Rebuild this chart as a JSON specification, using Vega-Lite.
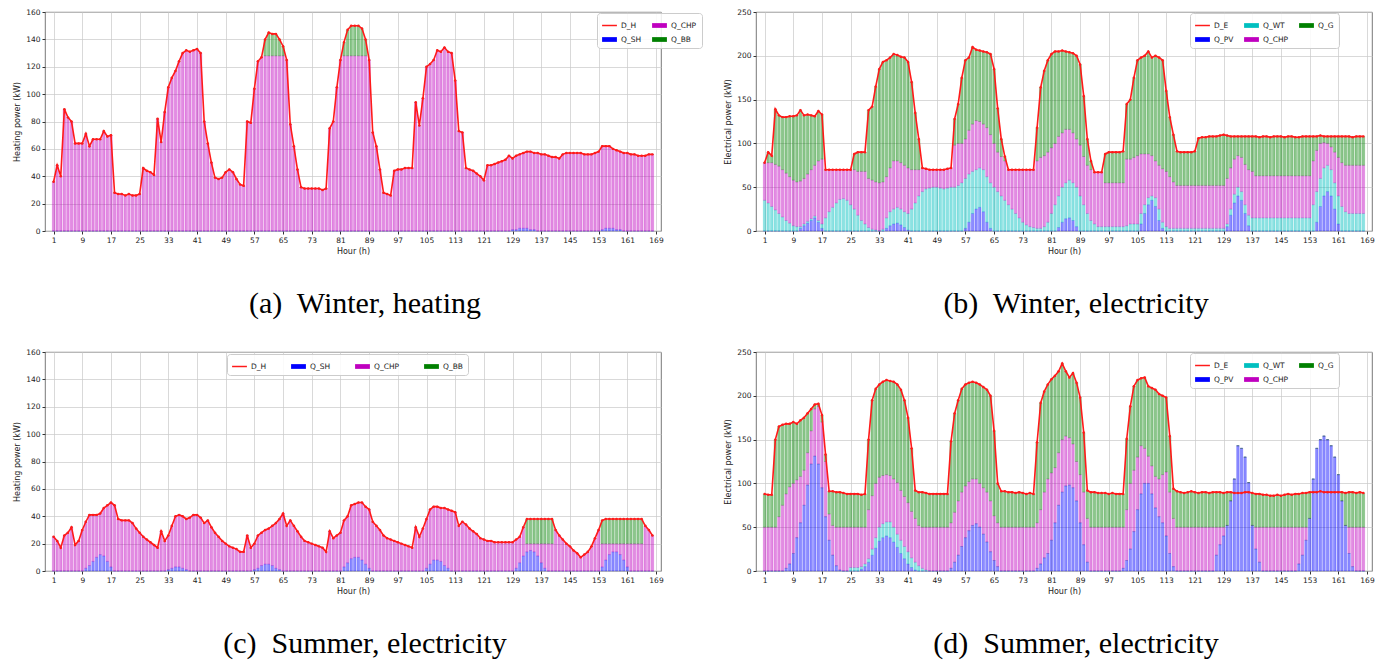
{
"$schema": "https://vega.github.io/schema/vega-lite/v6.json",
"background": "white",
"padding": {"left": 13, "top": 7, "right": 5, "bottom": 5},
"config": {
  "font": "DejaVu Sans",
  "view": {"stroke": "#555", "strokeWidth": 0.8},
  "axis": {"labelFontSize": 7.5, "titleFontSize": 8, "labelColor": "#222", "titleColor": "#222", "titleFontWeight": "normal", "gridColor": "#c8c8c8", "gridWidth": 0.7, "tickColor": "#333", "tickSize": 3, "domain": false, "labelPadding": 2, "titlePadding": 4, "labelOverlap": false, "labelFlush": false},
  "legend": {"labelFontSize": 7.5, "labelFont": "DejaVu Sans", "labelColor": "#222", "title": null, "symbolSize": 220, "rowPadding": 3, "columnPadding": 10, "padding": 5, "strokeColor": "#cccccc", "fillColor": "rgba(255,255,255,0.85)", "cornerRadius": 3, "labelLimit": 80, "symbolStrokeWidth": 0},
  "title": {"font": "Liberation Serif", "fontSize": 30, "fontWeight": "normal", "color": "#000", "orient": "bottom", "anchor": "middle", "offset": 33, "dx": 12}
},
"datasets": {
"ka": [{"k":"s","lab":"Q_SH","o":0},{"k":"c","lab":"Q_CHP","o":1},{"k":"b","lab":"Q_BB","o":2}],
"kb": [{"k":"p","lab":"Q_PV","o":0},{"k":"w","lab":"Q_WT","o":1},{"k":"c","lab":"Q_CHP","o":2},{"k":"g","lab":"Q_G","o":3}],
"a": [
{"h":1,"D":36,"s":0,"c":36,"b":0},{"h":2,"D":48,"s":0,"c":48,"b":0},{"h":3,"D":40,"s":0,"c":40,"b":0},{"h":4,"D":89,"s":0,"c":89,"b":0},{"h":5,"D":83,"s":0,"c":83,"b":0},{"h":6,"D":80,"s":0,"c":80,"b":0},{"h":7,"D":64,"s":0,"c":64,"b":0},{"h":8,"D":64,"s":0,"c":64,"b":0},{"h":9,"D":64,"s":0,"c":64,"b":0},{"h":10,"D":71,"s":0,"c":71,"b":0},
{"h":11,"D":62,"s":0,"c":62,"b":0},{"h":12,"D":67,"s":0,"c":67,"b":0},{"h":13,"D":67,"s":0,"c":67,"b":0},{"h":14,"D":67,"s":0,"c":67,"b":0},{"h":15,"D":73,"s":0,"c":73,"b":0},{"h":16,"D":69,"s":0,"c":69,"b":0},{"h":17,"D":70,"s":0,"c":70,"b":0},{"h":18,"D":28,"s":0,"c":28,"b":0},{"h":19,"D":27,"s":0,"c":27,"b":0},{"h":20,"D":27,"s":0,"c":27,"b":0},
{"h":21,"D":26,"s":0,"c":26,"b":0},{"h":22,"D":27,"s":0,"c":27,"b":0},{"h":23,"D":26,"s":0,"c":26,"b":0},{"h":24,"D":26,"s":0,"c":26,"b":0},{"h":25,"D":27,"s":0,"c":27,"b":0},{"h":26,"D":46,"s":0,"c":46,"b":0},{"h":27,"D":44,"s":0,"c":44,"b":0},{"h":28,"D":43,"s":0,"c":43,"b":0},{"h":29,"D":41,"s":0,"c":41,"b":0},{"h":30,"D":82,"s":0,"c":82,"b":0},
{"h":31,"D":65,"s":0,"c":65,"b":0},{"h":32,"D":87,"s":0,"c":87,"b":0},{"h":33,"D":105,"s":0,"c":105,"b":0},{"h":34,"D":112,"s":0,"c":112,"b":0},{"h":35,"D":117,"s":0,"c":117,"b":0},{"h":36,"D":124,"s":0,"c":124,"b":0},{"h":37,"D":130,"s":0,"c":130,"b":0},{"h":38,"D":132,"s":0,"c":132,"b":0},{"h":39,"D":131,"s":0,"c":131,"b":0},{"h":40,"D":132,"s":0,"c":132,"b":0},
{"h":41,"D":133,"s":0,"c":133,"b":0},{"h":42,"D":130,"s":0,"c":130,"b":0},{"h":43,"D":80,"s":0,"c":80,"b":0},{"h":44,"D":64,"s":0,"c":64,"b":0},{"h":45,"D":50,"s":0,"c":50,"b":0},{"h":46,"D":39,"s":0,"c":39,"b":0},{"h":47,"D":38,"s":0,"c":38,"b":0},{"h":48,"D":39,"s":0,"c":39,"b":0},{"h":49,"D":43,"s":0,"c":43,"b":0},{"h":50,"D":45,"s":0,"c":45,"b":0},
{"h":51,"D":43,"s":0,"c":43,"b":0},{"h":52,"D":38,"s":0,"c":38,"b":0},{"h":53,"D":34,"s":0,"c":34,"b":0},{"h":54,"D":33,"s":0,"c":33,"b":0},{"h":55,"D":80,"s":0,"c":80,"b":0},{"h":56,"D":79,"s":0,"c":79,"b":0},{"h":57,"D":104,"s":0,"c":104,"b":0},{"h":58,"D":124,"s":0,"c":124,"b":0},{"h":59,"D":127,"s":0,"c":127,"b":0},{"h":60,"D":140,"s":0,"c":128,"b":12},
{"h":61,"D":145,"s":0,"c":128,"b":17},{"h":62,"D":144,"s":0,"c":128,"b":16},{"h":63,"D":144,"s":0,"c":128,"b":16},{"h":64,"D":140,"s":0,"c":128,"b":12},{"h":65,"D":135,"s":0,"c":128,"b":7},{"h":66,"D":125,"s":0,"c":125,"b":0},{"h":67,"D":78,"s":0,"c":78,"b":0},{"h":68,"D":62,"s":0,"c":62,"b":0},{"h":69,"D":45,"s":0,"c":45,"b":0},{"h":70,"D":32,"s":0,"c":32,"b":0},
{"h":71,"D":31,"s":0,"c":31,"b":0},{"h":72,"D":31,"s":0,"c":31,"b":0},{"h":73,"D":31,"s":0,"c":31,"b":0},{"h":74,"D":31,"s":0,"c":31,"b":0},{"h":75,"D":31,"s":0,"c":31,"b":0},{"h":76,"D":30,"s":0,"c":30,"b":0},{"h":77,"D":31,"s":0,"c":31,"b":0},{"h":78,"D":75,"s":0,"c":75,"b":0},{"h":79,"D":80,"s":0,"c":80,"b":0},{"h":80,"D":105,"s":0,"c":105,"b":0},
{"h":81,"D":125,"s":0,"c":125,"b":0},{"h":82,"D":138,"s":0,"c":128,"b":10},{"h":83,"D":147,"s":0,"c":128,"b":19},{"h":84,"D":150,"s":0,"c":128,"b":22},{"h":85,"D":150,"s":0,"c":128,"b":22},{"h":86,"D":150,"s":0,"c":128,"b":22},{"h":87,"D":148,"s":0,"c":128,"b":20},{"h":88,"D":140,"s":0,"c":128,"b":12},{"h":89,"D":125,"s":0,"c":125,"b":0},{"h":90,"D":72,"s":0,"c":72,"b":0},
{"h":91,"D":62,"s":0,"c":62,"b":0},{"h":92,"D":45,"s":0,"c":45,"b":0},{"h":93,"D":28,"s":0,"c":28,"b":0},{"h":94,"D":27,"s":0,"c":27,"b":0},{"h":95,"D":26,"s":0,"c":26,"b":0},{"h":96,"D":44,"s":0,"c":44,"b":0},{"h":97,"D":45,"s":0,"c":45,"b":0},{"h":98,"D":45,"s":0,"c":45,"b":0},{"h":99,"D":46,"s":0,"c":46,"b":0},{"h":100,"D":46,"s":0,"c":46,"b":0},
{"h":101,"D":46,"s":0,"c":46,"b":0},{"h":102,"D":94,"s":0,"c":94,"b":0},{"h":103,"D":77,"s":0,"c":77,"b":0},{"h":104,"D":97,"s":0,"c":97,"b":0},{"h":105,"D":120,"s":0,"c":120,"b":0},{"h":106,"D":122,"s":0,"c":122,"b":0},{"h":107,"D":125,"s":0,"c":125,"b":0},{"h":108,"D":132,"s":0,"c":132,"b":0},{"h":109,"D":131,"s":0,"c":131,"b":0},{"h":110,"D":134,"s":0,"c":134,"b":0},
{"h":111,"D":131,"s":0,"c":131,"b":0},{"h":112,"D":130,"s":0,"c":130,"b":0},{"h":113,"D":110,"s":0,"c":110,"b":0},{"h":114,"D":73,"s":0,"c":73,"b":0},{"h":115,"D":72,"s":0,"c":72,"b":0},{"h":116,"D":46,"s":0,"c":46,"b":0},{"h":117,"D":45,"s":0,"c":45,"b":0},{"h":118,"D":44,"s":0,"c":44,"b":0},{"h":119,"D":42,"s":0,"c":42,"b":0},{"h":120,"D":40,"s":0,"c":40,"b":0},
{"h":121,"D":37,"s":0,"c":37,"b":0},{"h":122,"D":48,"s":0,"c":48,"b":0},{"h":123,"D":48,"s":0,"c":48,"b":0},{"h":124,"D":49,"s":0,"c":49,"b":0},{"h":125,"D":50,"s":0,"c":50,"b":0},{"h":126,"D":51,"s":0,"c":51,"b":0},{"h":127,"D":52,"s":0,"c":52,"b":0},{"h":128,"D":55,"s":0,"c":55,"b":0},{"h":129,"D":53,"s":1,"c":52,"b":0},{"h":130,"D":55,"s":1,"c":54,"b":0},
{"h":131,"D":56,"s":2,"c":54,"b":0},{"h":132,"D":57,"s":2,"c":55,"b":0},{"h":133,"D":58,"s":2,"c":56,"b":0},{"h":134,"D":58,"s":1,"c":57,"b":0},{"h":135,"D":57,"s":1,"c":56,"b":0},{"h":136,"D":57,"s":0,"c":57,"b":0},{"h":137,"D":56,"s":0,"c":56,"b":0},{"h":138,"D":56,"s":0,"c":56,"b":0},{"h":139,"D":55,"s":0,"c":55,"b":0},{"h":140,"D":54,"s":0,"c":54,"b":0},
{"h":141,"D":54,"s":0,"c":54,"b":0},{"h":142,"D":53,"s":0,"c":53,"b":0},{"h":143,"D":56,"s":0,"c":56,"b":0},{"h":144,"D":57,"s":0,"c":57,"b":0},{"h":145,"D":57,"s":0,"c":57,"b":0},{"h":146,"D":57,"s":0,"c":57,"b":0},{"h":147,"D":57,"s":0,"c":57,"b":0},{"h":148,"D":57,"s":0,"c":57,"b":0},{"h":149,"D":56,"s":0,"c":56,"b":0},{"h":150,"D":56,"s":0,"c":56,"b":0},
{"h":151,"D":56,"s":0,"c":56,"b":0},{"h":152,"D":57,"s":0,"c":57,"b":0},{"h":153,"D":58,"s":0,"c":58,"b":0},{"h":154,"D":62,"s":1,"c":61,"b":0},{"h":155,"D":62,"s":2,"c":60,"b":0},{"h":156,"D":62,"s":2,"c":60,"b":0},{"h":157,"D":60,"s":2,"c":58,"b":0},{"h":158,"D":59,"s":1,"c":58,"b":0},{"h":159,"D":58,"s":1,"c":57,"b":0},{"h":160,"D":57,"s":0,"c":57,"b":0},
{"h":161,"D":57,"s":0,"c":57,"b":0},{"h":162,"D":56,"s":0,"c":56,"b":0},{"h":163,"D":56,"s":0,"c":56,"b":0},{"h":164,"D":55,"s":0,"c":55,"b":0},{"h":165,"D":55,"s":0,"c":55,"b":0},{"h":166,"D":55,"s":0,"c":55,"b":0},{"h":167,"D":56,"s":0,"c":56,"b":0},{"h":168,"D":56,"s":0,"c":56,"b":0}
],
"c": [
{"h":1,"D":25,"s":0,"c":25,"b":0},{"h":2,"D":22,"s":0,"c":22,"b":0},{"h":3,"D":17,"s":0,"c":17,"b":0},{"h":4,"D":26,"s":0,"c":26,"b":0},{"h":5,"D":28,"s":0,"c":28,"b":0},{"h":6,"D":32,"s":0,"c":32,"b":0},{"h":7,"D":19,"s":0,"c":19,"b":0},{"h":8,"D":22,"s":0,"c":22,"b":0},{"h":9,"D":30,"s":0,"c":30,"b":0},{"h":10,"D":36,"s":2,"c":34,"b":0},
{"h":11,"D":41,"s":4,"c":37,"b":0},{"h":12,"D":41,"s":7,"c":34,"b":0},{"h":13,"D":41,"s":10,"c":31,"b":0},{"h":14,"D":42,"s":12,"c":30,"b":0},{"h":15,"D":46,"s":11,"c":35,"b":0},{"h":16,"D":48,"s":7,"c":41,"b":0},{"h":17,"D":50,"s":3,"c":47,"b":0},{"h":18,"D":48,"s":0,"c":48,"b":0},{"h":19,"D":38,"s":0,"c":38,"b":0},{"h":20,"D":37,"s":0,"c":37,"b":0},
{"h":21,"D":37,"s":0,"c":37,"b":0},{"h":22,"D":37,"s":0,"c":37,"b":0},{"h":23,"D":35,"s":0,"c":35,"b":0},{"h":24,"D":31,"s":0,"c":31,"b":0},{"h":25,"D":28,"s":0,"c":28,"b":0},{"h":26,"D":25,"s":0,"c":25,"b":0},{"h":27,"D":23,"s":0,"c":23,"b":0},{"h":28,"D":21,"s":0,"c":21,"b":0},{"h":29,"D":19,"s":0,"c":19,"b":0},{"h":30,"D":17,"s":0,"c":17,"b":0},
{"h":31,"D":29,"s":0,"c":29,"b":0},{"h":32,"D":22,"s":0,"c":22,"b":0},{"h":33,"D":26,"s":1,"c":25,"b":0},{"h":34,"D":33,"s":2,"c":31,"b":0},{"h":35,"D":40,"s":3,"c":37,"b":0},{"h":36,"D":41,"s":3,"c":38,"b":0},{"h":37,"D":40,"s":2,"c":38,"b":0},{"h":38,"D":38,"s":1,"c":37,"b":0},{"h":39,"D":39,"s":0,"c":39,"b":0},{"h":40,"D":41,"s":0,"c":41,"b":0},
{"h":41,"D":41,"s":0,"c":41,"b":0},{"h":42,"D":39,"s":0,"c":39,"b":0},{"h":43,"D":35,"s":0,"c":35,"b":0},{"h":44,"D":37,"s":0,"c":37,"b":0},{"h":45,"D":32,"s":0,"c":32,"b":0},{"h":46,"D":28,"s":0,"c":28,"b":0},{"h":47,"D":25,"s":0,"c":25,"b":0},{"h":48,"D":22,"s":0,"c":22,"b":0},{"h":49,"D":20,"s":0,"c":20,"b":0},{"h":50,"D":18,"s":0,"c":18,"b":0},
{"h":51,"D":17,"s":0,"c":17,"b":0},{"h":52,"D":16,"s":0,"c":16,"b":0},{"h":53,"D":14,"s":0,"c":14,"b":0},{"h":54,"D":14,"s":0,"c":14,"b":0},{"h":55,"D":26,"s":0,"c":26,"b":0},{"h":56,"D":17,"s":0,"c":17,"b":0},{"h":57,"D":20,"s":1,"c":19,"b":0},{"h":58,"D":26,"s":2,"c":24,"b":0},{"h":59,"D":28,"s":4,"c":24,"b":0},{"h":60,"D":30,"s":5,"c":25,"b":0},
{"h":61,"D":31,"s":5,"c":26,"b":0},{"h":62,"D":33,"s":4,"c":29,"b":0},{"h":63,"D":35,"s":2,"c":33,"b":0},{"h":64,"D":38,"s":1,"c":37,"b":0},{"h":65,"D":42,"s":0,"c":42,"b":0},{"h":66,"D":33,"s":0,"c":33,"b":0},{"h":67,"D":37,"s":0,"c":37,"b":0},{"h":68,"D":33,"s":0,"c":33,"b":0},{"h":69,"D":29,"s":0,"c":29,"b":0},{"h":70,"D":25,"s":0,"c":25,"b":0},
{"h":71,"D":22,"s":0,"c":22,"b":0},{"h":72,"D":21,"s":0,"c":21,"b":0},{"h":73,"D":20,"s":0,"c":20,"b":0},{"h":74,"D":19,"s":0,"c":19,"b":0},{"h":75,"D":18,"s":0,"c":18,"b":0},{"h":76,"D":17,"s":0,"c":17,"b":0},{"h":77,"D":14,"s":0,"c":14,"b":0},{"h":78,"D":29,"s":0,"c":29,"b":0},{"h":79,"D":24,"s":0,"c":24,"b":0},{"h":80,"D":26,"s":0,"c":26,"b":0},
{"h":81,"D":28,"s":0,"c":28,"b":0},{"h":82,"D":37,"s":3,"c":34,"b":0},{"h":83,"D":40,"s":6,"c":34,"b":0},{"h":84,"D":48,"s":9,"c":39,"b":0},{"h":85,"D":49,"s":10,"c":39,"b":0},{"h":86,"D":50,"s":10,"c":40,"b":0},{"h":87,"D":50,"s":8,"c":42,"b":0},{"h":88,"D":47,"s":5,"c":42,"b":0},{"h":89,"D":45,"s":2,"c":43,"b":0},{"h":90,"D":36,"s":0,"c":36,"b":0},
{"h":91,"D":33,"s":0,"c":33,"b":0},{"h":92,"D":30,"s":0,"c":30,"b":0},{"h":93,"D":26,"s":0,"c":26,"b":0},{"h":94,"D":24,"s":0,"c":24,"b":0},{"h":95,"D":23,"s":0,"c":23,"b":0},{"h":96,"D":22,"s":0,"c":22,"b":0},{"h":97,"D":21,"s":0,"c":21,"b":0},{"h":98,"D":20,"s":0,"c":20,"b":0},{"h":99,"D":19,"s":0,"c":19,"b":0},{"h":100,"D":18,"s":0,"c":18,"b":0},
{"h":101,"D":17,"s":0,"c":17,"b":0},{"h":102,"D":32,"s":0,"c":32,"b":0},{"h":103,"D":25,"s":0,"c":25,"b":0},{"h":104,"D":31,"s":0,"c":31,"b":0},{"h":105,"D":38,"s":2,"c":36,"b":0},{"h":106,"D":45,"s":5,"c":40,"b":0},{"h":107,"D":47,"s":8,"c":39,"b":0},{"h":108,"D":47,"s":8,"c":39,"b":0},{"h":109,"D":46,"s":7,"c":39,"b":0},{"h":110,"D":46,"s":4,"c":42,"b":0},
{"h":111,"D":45,"s":2,"c":43,"b":0},{"h":112,"D":44,"s":0,"c":44,"b":0},{"h":113,"D":43,"s":0,"c":43,"b":0},{"h":114,"D":33,"s":0,"c":33,"b":0},{"h":115,"D":36,"s":0,"c":36,"b":0},{"h":116,"D":34,"s":0,"c":34,"b":0},{"h":117,"D":31,"s":0,"c":31,"b":0},{"h":118,"D":29,"s":0,"c":29,"b":0},{"h":119,"D":27,"s":0,"c":27,"b":0},{"h":120,"D":24,"s":0,"c":24,"b":0},
{"h":121,"D":23,"s":0,"c":23,"b":0},{"h":122,"D":22,"s":0,"c":22,"b":0},{"h":123,"D":22,"s":0,"c":22,"b":0},{"h":124,"D":21,"s":0,"c":21,"b":0},{"h":125,"D":21,"s":0,"c":21,"b":0},{"h":126,"D":21,"s":0,"c":21,"b":0},{"h":127,"D":21,"s":0,"c":21,"b":0},{"h":128,"D":21,"s":0,"c":21,"b":0},{"h":129,"D":21,"s":0,"c":21,"b":0},{"h":130,"D":23,"s":2,"c":21,"b":0},
{"h":131,"D":25,"s":6,"c":19,"b":0},{"h":132,"D":32,"s":11,"c":21,"b":0},{"h":133,"D":38,"s":14,"c":6,"b":18},{"h":134,"D":38,"s":15,"c":5,"b":18},{"h":135,"D":38,"s":14,"c":6,"b":18},{"h":136,"D":38,"s":11,"c":9,"b":18},{"h":137,"D":38,"s":6,"c":14,"b":18},{"h":138,"D":38,"s":2,"c":18,"b":18},{"h":139,"D":38,"s":0,"c":20,"b":18},{"h":140,"D":38,"s":0,"c":20,"b":18},
{"h":141,"D":30,"s":0,"c":30,"b":0},{"h":142,"D":26,"s":0,"c":26,"b":0},{"h":143,"D":23,"s":0,"c":23,"b":0},{"h":144,"D":20,"s":0,"c":20,"b":0},{"h":145,"D":18,"s":0,"c":18,"b":0},{"h":146,"D":15,"s":0,"c":15,"b":0},{"h":147,"D":13,"s":0,"c":13,"b":0},{"h":148,"D":10,"s":0,"c":10,"b":0},{"h":149,"D":12,"s":0,"c":12,"b":0},{"h":150,"D":14,"s":0,"c":14,"b":0},
{"h":151,"D":18,"s":0,"c":18,"b":0},{"h":152,"D":24,"s":0,"c":24,"b":0},{"h":153,"D":30,"s":0,"c":30,"b":0},{"h":154,"D":37,"s":3,"c":17,"b":17},{"h":155,"D":38,"s":8,"c":12,"b":18},{"h":156,"D":38,"s":12,"c":8,"b":18},{"h":157,"D":38,"s":14,"c":6,"b":18},{"h":158,"D":38,"s":14,"c":6,"b":18},{"h":159,"D":38,"s":12,"c":8,"b":18},{"h":160,"D":38,"s":8,"c":12,"b":18},
{"h":161,"D":38,"s":3,"c":17,"b":18},{"h":162,"D":38,"s":0,"c":20,"b":18},{"h":163,"D":38,"s":0,"c":20,"b":18},{"h":164,"D":38,"s":0,"c":20,"b":18},{"h":165,"D":38,"s":0,"c":20,"b":18},{"h":166,"D":33,"s":0,"c":33,"b":0},{"h":167,"D":30,"s":0,"c":30,"b":0},{"h":168,"D":26,"s":0,"c":26,"b":0}
],
"b": [
{"h":1,"D":78,"p":0,"w":35,"c":43,"g":0},{"h":2,"D":90,"p":0,"w":32,"c":46,"g":12},{"h":3,"D":86,"p":0,"w":28,"c":50,"g":8},{"h":4,"D":139,"p":0,"w":24,"c":52,"g":63},{"h":5,"D":132,"p":0,"w":20,"c":54,"g":58},{"h":6,"D":130,"p":0,"w":16,"c":54,"g":60},{"h":7,"D":130,"p":0,"w":12,"c":54,"g":64},{"h":8,"D":131,"p":0,"w":9,"c":53,"g":69},{"h":9,"D":131,"p":0,"w":6,"c":52,"g":73},{"h":10,"D":132,"p":0,"w":5,"c":51,"g":76},
{"h":11,"D":138,"p":3,"w":2,"c":52,"g":81},{"h":12,"D":132,"p":6,"w":2,"c":52,"g":72},{"h":13,"D":133,"p":9,"w":2,"c":54,"g":68},{"h":14,"D":132,"p":12,"w":2,"c":56,"g":62},{"h":15,"D":131,"p":15,"w":2,"c":58,"g":56},{"h":16,"D":137,"p":10,"w":2,"c":68,"g":57},{"h":17,"D":133,"p":3,"w":5,"c":74,"g":51},{"h":18,"D":70,"p":0,"w":15,"c":55,"g":0},{"h":19,"D":70,"p":0,"w":22,"c":48,"g":0},{"h":20,"D":70,"p":0,"w":27,"c":43,"g":0},
{"h":21,"D":70,"p":0,"w":32,"c":38,"g":0},{"h":22,"D":70,"p":0,"w":36,"c":34,"g":0},{"h":23,"D":70,"p":0,"w":37,"c":33,"g":0},{"h":24,"D":70,"p":0,"w":35,"c":35,"g":0},{"h":25,"D":70,"p":0,"w":30,"c":40,"g":0},{"h":26,"D":88,"p":0,"w":25,"c":45,"g":18},{"h":27,"D":90,"p":0,"w":18,"c":50,"g":22},{"h":28,"D":90,"p":0,"w":12,"c":56,"g":22},{"h":29,"D":90,"p":0,"w":8,"c":60,"g":22},{"h":30,"D":138,"p":0,"w":4,"c":56,"g":78},
{"h":31,"D":142,"p":0,"w":2,"c":56,"g":84},{"h":32,"D":165,"p":0,"w":1,"c":55,"g":109},{"h":33,"D":185,"p":0,"w":0,"c":55,"g":130},{"h":34,"D":193,"p":0,"w":2,"c":54,"g":137},{"h":35,"D":195,"p":3,"w":12,"c":47,"g":133},{"h":36,"D":198,"p":6,"w":16,"c":50,"g":126},{"h":37,"D":202,"p":8,"w":17,"c":55,"g":122},{"h":38,"D":201,"p":9,"w":18,"c":53,"g":121},{"h":39,"D":199,"p":7,"w":18,"c":53,"g":121},{"h":40,"D":198,"p":4,"w":18,"c":53,"g":123},
{"h":41,"D":193,"p":1,"w":19,"c":52,"g":121},{"h":42,"D":170,"p":0,"w":25,"c":45,"g":100},{"h":43,"D":135,"p":0,"w":32,"c":38,"g":65},{"h":44,"D":105,"p":0,"w":40,"c":30,"g":35},{"h":45,"D":72,"p":0,"w":45,"c":27,"g":0},{"h":46,"D":71,"p":0,"w":48,"c":23,"g":0},{"h":47,"D":70,"p":0,"w":49,"c":21,"g":0},{"h":48,"D":70,"p":0,"w":50,"c":20,"g":0},{"h":49,"D":70,"p":0,"w":50,"c":20,"g":0},{"h":50,"D":70,"p":0,"w":49,"c":21,"g":0},
{"h":51,"D":70,"p":0,"w":48,"c":22,"g":0},{"h":52,"D":71,"p":0,"w":49,"c":22,"g":0},{"h":53,"D":72,"p":0,"w":50,"c":22,"g":0},{"h":54,"D":128,"p":0,"w":50,"c":48,"g":30},{"h":55,"D":145,"p":0,"w":52,"c":48,"g":45},{"h":56,"D":175,"p":0,"w":55,"c":45,"g":75},{"h":57,"D":195,"p":3,"w":57,"c":45,"g":90},{"h":58,"D":198,"p":10,"w":55,"c":50,"g":83},{"h":59,"D":210,"p":20,"w":48,"c":54,"g":88},{"h":60,"D":207,"p":25,"w":45,"c":56,"g":81},
{"h":61,"D":206,"p":27,"w":45,"c":53,"g":81},{"h":62,"D":205,"p":22,"w":48,"c":52,"g":83},{"h":63,"D":204,"p":10,"w":52,"c":56,"g":86},{"h":64,"D":202,"p":3,"w":52,"c":55,"g":92},{"h":65,"D":185,"p":0,"w":50,"c":50,"g":85},{"h":66,"D":140,"p":0,"w":45,"c":45,"g":50},{"h":67,"D":105,"p":0,"w":40,"c":45,"g":20},{"h":68,"D":85,"p":0,"w":35,"c":45,"g":5},{"h":69,"D":70,"p":0,"w":30,"c":40,"g":0},{"h":70,"D":70,"p":0,"w":25,"c":45,"g":0},
{"h":71,"D":70,"p":0,"w":20,"c":50,"g":0},{"h":72,"D":70,"p":0,"w":15,"c":55,"g":0},{"h":73,"D":70,"p":0,"w":10,"c":60,"g":0},{"h":74,"D":70,"p":0,"w":7,"c":63,"g":0},{"h":75,"D":70,"p":0,"w":5,"c":65,"g":0},{"h":76,"D":70,"p":0,"w":4,"c":66,"g":0},{"h":77,"D":118,"p":0,"w":3,"c":77,"g":38},{"h":78,"D":164,"p":0,"w":3,"c":81,"g":80},{"h":79,"D":183,"p":0,"w":5,"c":81,"g":97},{"h":80,"D":195,"p":0,"w":10,"c":80,"g":105},
{"h":81,"D":202,"p":0,"w":20,"c":75,"g":107},{"h":82,"D":205,"p":0,"w":30,"c":70,"g":105},{"h":83,"D":205,"p":4,"w":36,"c":68,"g":97},{"h":84,"D":206,"p":10,"w":40,"c":62,"g":94},{"h":85,"D":205,"p":14,"w":41,"c":61,"g":89},{"h":86,"D":204,"p":15,"w":43,"c":58,"g":88},{"h":87,"D":203,"p":12,"w":43,"c":57,"g":91},{"h":88,"D":200,"p":5,"w":45,"c":55,"g":95},{"h":89,"D":190,"p":0,"w":40,"c":58,"g":92},{"h":90,"D":154,"p":0,"w":30,"c":55,"g":69},
{"h":91,"D":105,"p":0,"w":20,"c":55,"g":30},{"h":92,"D":80,"p":0,"w":12,"c":58,"g":10},{"h":93,"D":67,"p":0,"w":8,"c":59,"g":0},{"h":94,"D":67,"p":0,"w":5,"c":62,"g":0},{"h":95,"D":67,"p":0,"w":5,"c":62,"g":0},{"h":96,"D":88,"p":0,"w":5,"c":50,"g":33},{"h":97,"D":90,"p":0,"w":5,"c":50,"g":35},{"h":98,"D":90,"p":0,"w":5,"c":50,"g":35},{"h":99,"D":90,"p":0,"w":5,"c":50,"g":35},{"h":100,"D":90,"p":0,"w":5,"c":50,"g":35},
{"h":101,"D":91,"p":0,"w":5,"c":50,"g":36},{"h":102,"D":145,"p":0,"w":6,"c":76,"g":63},{"h":103,"D":150,"p":0,"w":8,"c":74,"g":68},{"h":104,"D":175,"p":0,"w":8,"c":76,"g":91},{"h":105,"D":195,"p":0,"w":8,"c":78,"g":109},{"h":106,"D":198,"p":8,"w":12,"c":68,"g":110},{"h":107,"D":200,"p":20,"w":10,"c":58,"g":112},{"h":108,"D":205,"p":30,"w":8,"c":50,"g":117},{"h":109,"D":198,"p":35,"w":5,"c":46,"g":112},{"h":110,"D":200,"p":28,"w":10,"c":42,"g":120},
{"h":111,"D":198,"p":12,"w":13,"c":50,"g":123},{"h":112,"D":195,"p":3,"w":7,"c":61,"g":124},{"h":113,"D":160,"p":0,"w":5,"c":63,"g":92},{"h":114,"D":130,"p":0,"w":3,"c":59,"g":68},{"h":115,"D":110,"p":0,"w":3,"c":53,"g":54},{"h":116,"D":91,"p":0,"w":3,"c":49,"g":39},{"h":117,"D":90,"p":0,"w":3,"c":49,"g":38},{"h":118,"D":90,"p":0,"w":3,"c":49,"g":38},{"h":119,"D":90,"p":0,"w":3,"c":49,"g":38},{"h":120,"D":90,"p":0,"w":3,"c":49,"g":38},
{"h":121,"D":91,"p":0,"w":3,"c":49,"g":39},{"h":122,"D":106,"p":0,"w":3,"c":49,"g":54},{"h":123,"D":107,"p":0,"w":3,"c":49,"g":55},{"h":124,"D":107,"p":0,"w":3,"c":49,"g":55},{"h":125,"D":108,"p":0,"w":3,"c":49,"g":56},{"h":126,"D":108,"p":0,"w":3,"c":49,"g":56},{"h":127,"D":108,"p":0,"w":3,"c":49,"g":56},{"h":128,"D":109,"p":0,"w":3,"c":49,"g":57},{"h":129,"D":110,"p":0,"w":3,"c":49,"g":58},{"h":130,"D":109,"p":5,"w":3,"c":52,"g":49},
{"h":131,"D":108,"p":18,"w":7,"c":47,"g":36},{"h":132,"D":108,"p":32,"w":10,"c":40,"g":26},{"h":133,"D":108,"p":40,"w":10,"c":36,"g":22},{"h":134,"D":108,"p":35,"w":10,"c":39,"g":24},{"h":135,"D":108,"p":20,"w":10,"c":46,"g":32},{"h":136,"D":108,"p":6,"w":12,"c":52,"g":38},{"h":137,"D":108,"p":0,"w":15,"c":53,"g":40},{"h":138,"D":108,"p":0,"w":15,"c":48,"g":45},{"h":139,"D":107,"p":0,"w":15,"c":48,"g":44},{"h":140,"D":108,"p":0,"w":15,"c":48,"g":45},
{"h":141,"D":108,"p":0,"w":15,"c":48,"g":45},{"h":142,"D":107,"p":0,"w":15,"c":48,"g":44},{"h":143,"D":108,"p":0,"w":15,"c":48,"g":45},{"h":144,"D":108,"p":0,"w":15,"c":48,"g":45},{"h":145,"D":108,"p":0,"w":15,"c":48,"g":45},{"h":146,"D":107,"p":0,"w":15,"c":48,"g":44},{"h":147,"D":108,"p":0,"w":15,"c":48,"g":45},{"h":148,"D":108,"p":0,"w":15,"c":48,"g":45},{"h":149,"D":107,"p":0,"w":15,"c":48,"g":44},{"h":150,"D":107,"p":0,"w":15,"c":48,"g":44},
{"h":151,"D":108,"p":0,"w":15,"c":48,"g":45},{"h":152,"D":108,"p":0,"w":15,"c":48,"g":45},{"h":153,"D":108,"p":0,"w":15,"c":48,"g":45},{"h":154,"D":108,"p":0,"w":30,"c":50,"g":28},{"h":155,"D":108,"p":10,"w":35,"c":47,"g":16},{"h":156,"D":109,"p":28,"w":32,"c":40,"g":9},{"h":157,"D":108,"p":40,"w":32,"c":29,"g":7},{"h":158,"D":108,"p":45,"w":30,"c":25,"g":8},{"h":159,"D":108,"p":40,"w":30,"c":26,"g":12},{"h":160,"D":108,"p":25,"w":30,"c":35,"g":18},
{"h":161,"D":108,"p":8,"w":32,"c":44,"g":24},{"h":162,"D":108,"p":0,"w":28,"c":50,"g":30},{"h":163,"D":108,"p":0,"w":22,"c":53,"g":33},{"h":164,"D":108,"p":0,"w":20,"c":55,"g":33},{"h":165,"D":107,"p":0,"w":20,"c":55,"g":32},{"h":166,"D":108,"p":0,"w":20,"c":55,"g":33},{"h":167,"D":108,"p":0,"w":20,"c":55,"g":33},{"h":168,"D":108,"p":0,"w":20,"c":55,"g":33}
],
"d": [
{"h":1,"D":88,"p":0,"w":0,"c":50,"g":38},{"h":2,"D":87,"p":0,"w":0,"c":50,"g":37},{"h":3,"D":87,"p":0,"w":0,"c":50,"g":37},{"h":4,"D":150,"p":0,"w":0,"c":50,"g":100},{"h":5,"D":165,"p":0,"w":0,"c":62,"g":103},{"h":6,"D":167,"p":0,"w":0,"c":75,"g":92},{"h":7,"D":168,"p":3,"w":0,"c":85,"g":80},{"h":8,"D":168,"p":8,"w":0,"c":88,"g":72},{"h":9,"D":170,"p":20,"w":0,"c":80,"g":70},{"h":10,"D":168,"p":38,"w":0,"c":66,"g":64},
{"h":11,"D":172,"p":55,"w":0,"c":53,"g":64},{"h":12,"D":175,"p":75,"w":0,"c":40,"g":60},{"h":13,"D":180,"p":98,"w":0,"c":37,"g":45},{"h":14,"D":185,"p":122,"w":0,"c":38,"g":25},{"h":15,"D":190,"p":131,"w":0,"c":54,"g":5},{"h":16,"D":191,"p":122,"w":0,"c":66,"g":3},{"h":17,"D":178,"p":95,"w":0,"c":75,"g":8},{"h":18,"D":133,"p":62,"w":0,"c":63,"g":8},{"h":19,"D":91,"p":35,"w":0,"c":30,"g":26},{"h":20,"D":91,"p":18,"w":0,"c":34,"g":39},
{"h":21,"D":90,"p":6,"w":0,"c":44,"g":40},{"h":22,"D":90,"p":1,"w":0,"c":49,"g":40},{"h":23,"D":89,"p":0,"w":0,"c":50,"g":39},{"h":24,"D":88,"p":0,"w":0,"c":50,"g":38},{"h":25,"D":88,"p":0,"w":4,"c":46,"g":38},{"h":26,"D":88,"p":0,"w":4,"c":46,"g":38},{"h":27,"D":88,"p":0,"w":4,"c":46,"g":38},{"h":28,"D":87,"p":2,"w":3,"c":45,"g":37},{"h":29,"D":88,"p":5,"w":3,"c":42,"g":38},{"h":30,"D":150,"p":10,"w":4,"c":56,"g":80},
{"h":31,"D":195,"p":18,"w":7,"c":61,"g":109},{"h":32,"D":208,"p":26,"w":12,"c":62,"g":108},{"h":33,"D":213,"p":34,"w":16,"c":57,"g":106},{"h":34,"D":216,"p":38,"w":16,"c":55,"g":107},{"h":35,"D":218,"p":40,"w":16,"c":54,"g":108},{"h":36,"D":217,"p":38,"w":18,"c":53,"g":108},{"h":37,"D":216,"p":33,"w":17,"c":55,"g":111},{"h":38,"D":213,"p":27,"w":15,"c":59,"g":112},{"h":39,"D":207,"p":20,"w":15,"c":57,"g":115},{"h":40,"D":195,"p":14,"w":14,"c":57,"g":110},
{"h":41,"D":175,"p":8,"w":14,"c":56,"g":97},{"h":42,"D":140,"p":4,"w":11,"c":53,"g":72},{"h":43,"D":92,"p":1,"w":9,"c":50,"g":32},{"h":44,"D":90,"p":0,"w":6,"c":46,"g":38},{"h":45,"D":90,"p":0,"w":3,"c":47,"g":40},{"h":46,"D":89,"p":0,"w":1,"c":49,"g":39},{"h":47,"D":88,"p":0,"w":0,"c":50,"g":38},{"h":48,"D":88,"p":0,"w":0,"c":50,"g":38},{"h":49,"D":88,"p":0,"w":0,"c":50,"g":38},{"h":50,"D":88,"p":0,"w":0,"c":50,"g":38},
{"h":51,"D":88,"p":0,"w":0,"c":50,"g":38},{"h":52,"D":88,"p":0,"w":0,"c":50,"g":38},{"h":53,"D":148,"p":3,"w":0,"c":52,"g":93},{"h":54,"D":180,"p":10,"w":0,"c":57,"g":113},{"h":55,"D":195,"p":18,"w":0,"c":62,"g":115},{"h":56,"D":208,"p":28,"w":0,"c":62,"g":118},{"h":57,"D":213,"p":38,"w":0,"c":59,"g":116},{"h":58,"D":215,"p":46,"w":0,"c":56,"g":113},{"h":59,"D":216,"p":52,"w":0,"c":53,"g":111},{"h":60,"D":215,"p":54,"w":0,"c":51,"g":110},
{"h":61,"D":213,"p":50,"w":0,"c":50,"g":113},{"h":62,"D":210,"p":42,"w":0,"c":53,"g":115},{"h":63,"D":207,"p":33,"w":0,"c":57,"g":117},{"h":64,"D":200,"p":22,"w":0,"c":58,"g":120},{"h":65,"D":160,"p":12,"w":0,"c":51,"g":97},{"h":66,"D":100,"p":5,"w":0,"c":50,"g":45},{"h":67,"D":91,"p":0,"w":0,"c":50,"g":41},{"h":68,"D":91,"p":0,"w":0,"c":50,"g":41},{"h":69,"D":90,"p":0,"w":0,"c":50,"g":40},{"h":70,"D":90,"p":0,"w":0,"c":50,"g":40},
{"h":71,"D":89,"p":0,"w":0,"c":50,"g":39},{"h":72,"D":90,"p":0,"w":0,"c":50,"g":40},{"h":73,"D":89,"p":0,"w":0,"c":50,"g":39},{"h":74,"D":88,"p":0,"w":0,"c":50,"g":38},{"h":75,"D":89,"p":0,"w":0,"c":50,"g":39},{"h":76,"D":88,"p":0,"w":0,"c":50,"g":38},{"h":77,"D":147,"p":3,"w":0,"c":52,"g":92},{"h":78,"D":192,"p":8,"w":0,"c":62,"g":122},{"h":79,"D":205,"p":15,"w":0,"c":75,"g":115},{"h":80,"D":213,"p":20,"w":0,"c":85,"g":108},
{"h":81,"D":219,"p":35,"w":0,"c":77,"g":107},{"h":82,"D":223,"p":55,"w":0,"c":63,"g":105},{"h":83,"D":228,"p":75,"w":0,"c":60,"g":93},{"h":84,"D":237,"p":90,"w":0,"c":60,"g":87},{"h":85,"D":228,"p":97,"w":0,"c":57,"g":74},{"h":86,"D":221,"p":98,"w":0,"c":54,"g":69},{"h":87,"D":226,"p":95,"w":0,"c":50,"g":81},{"h":88,"D":215,"p":80,"w":0,"c":45,"g":90},{"h":89,"D":198,"p":55,"w":0,"c":55,"g":88},{"h":90,"D":158,"p":30,"w":0,"c":60,"g":68},
{"h":91,"D":92,"p":10,"w":0,"c":50,"g":32},{"h":92,"D":90,"p":0,"w":0,"c":50,"g":40},{"h":93,"D":90,"p":0,"w":0,"c":50,"g":40},{"h":94,"D":89,"p":0,"w":0,"c":50,"g":39},{"h":95,"D":89,"p":0,"w":0,"c":50,"g":39},{"h":96,"D":89,"p":0,"w":0,"c":50,"g":39},{"h":97,"D":88,"p":0,"w":0,"c":50,"g":38},{"h":98,"D":89,"p":0,"w":0,"c":50,"g":39},{"h":99,"D":88,"p":0,"w":0,"c":50,"g":38},{"h":100,"D":88,"p":0,"w":0,"c":50,"g":38},
{"h":101,"D":88,"p":3,"w":0,"c":47,"g":38},{"h":102,"D":151,"p":12,"w":0,"c":58,"g":81},{"h":103,"D":188,"p":25,"w":0,"c":75,"g":88},{"h":104,"D":211,"p":45,"w":0,"c":70,"g":96},{"h":105,"D":218,"p":70,"w":0,"c":60,"g":88},{"h":106,"D":220,"p":88,"w":0,"c":55,"g":77},{"h":107,"D":221,"p":100,"w":0,"c":40,"g":81},{"h":108,"D":211,"p":100,"w":0,"c":31,"g":80},{"h":109,"D":209,"p":88,"w":0,"c":32,"g":89},{"h":110,"D":207,"p":72,"w":0,"c":36,"g":99},
{"h":111,"D":202,"p":62,"w":0,"c":43,"g":97},{"h":112,"D":200,"p":55,"w":0,"c":55,"g":90},{"h":113,"D":198,"p":40,"w":0,"c":73,"g":85},{"h":114,"D":154,"p":20,"w":0,"c":70,"g":64},{"h":115,"D":94,"p":5,"w":0,"c":55,"g":34},{"h":116,"D":91,"p":0,"w":0,"c":50,"g":41},{"h":117,"D":90,"p":0,"w":0,"c":50,"g":40},{"h":118,"D":89,"p":0,"w":0,"c":50,"g":39},{"h":119,"D":90,"p":0,"w":0,"c":50,"g":40},{"h":120,"D":91,"p":0,"w":0,"c":50,"g":41},
{"h":121,"D":90,"p":0,"w":0,"c":50,"g":40},{"h":122,"D":89,"p":0,"w":0,"c":50,"g":39},{"h":123,"D":90,"p":0,"w":0,"c":50,"g":40},{"h":124,"D":90,"p":0,"w":0,"c":50,"g":40},{"h":125,"D":89,"p":0,"w":0,"c":50,"g":39},{"h":126,"D":90,"p":0,"w":0,"c":50,"g":40},{"h":127,"D":90,"p":18,"w":0,"c":32,"g":40},{"h":128,"D":90,"p":30,"w":0,"c":20,"g":40},{"h":129,"D":89,"p":40,"w":0,"c":10,"g":39},{"h":130,"D":90,"p":52,"w":0,"c":0,"g":38},
{"h":131,"D":90,"p":80,"w":0,"c":0,"g":10},{"h":132,"D":89,"p":105,"w":0,"c":0,"g":0},{"h":133,"D":89,"p":143,"w":0,"c":0,"g":0},{"h":134,"D":89,"p":140,"w":0,"c":0,"g":0},{"h":135,"D":90,"p":130,"w":0,"c":0,"g":0},{"h":136,"D":90,"p":101,"w":0,"c":0,"g":0},{"h":137,"D":89,"p":52,"w":0,"c":0,"g":37},{"h":138,"D":88,"p":25,"w":0,"c":25,"g":38},{"h":139,"D":88,"p":10,"w":0,"c":40,"g":38},{"h":140,"D":87,"p":0,"w":0,"c":50,"g":37},
{"h":141,"D":87,"p":0,"w":0,"c":50,"g":37},{"h":142,"D":86,"p":0,"w":0,"c":50,"g":36},{"h":143,"D":86,"p":0,"w":0,"c":50,"g":36},{"h":144,"D":87,"p":0,"w":0,"c":50,"g":37},{"h":145,"D":86,"p":0,"w":0,"c":50,"g":36},{"h":146,"D":87,"p":0,"w":0,"c":50,"g":37},{"h":147,"D":88,"p":0,"w":0,"c":50,"g":38},{"h":148,"D":87,"p":0,"w":0,"c":50,"g":37},{"h":149,"D":88,"p":0,"w":0,"c":50,"g":38},{"h":150,"D":88,"p":8,"w":0,"c":42,"g":38},
{"h":151,"D":89,"p":18,"w":0,"c":32,"g":39},{"h":152,"D":89,"p":35,"w":0,"c":15,"g":39},{"h":153,"D":90,"p":60,"w":0,"c":0,"g":30},{"h":154,"D":90,"p":105,"w":0,"c":0,"g":0},{"h":155,"D":90,"p":140,"w":0,"c":0,"g":0},{"h":156,"D":91,"p":150,"w":0,"c":0,"g":0},{"h":157,"D":90,"p":154,"w":0,"c":0,"g":0},{"h":158,"D":90,"p":150,"w":0,"c":0,"g":0},{"h":159,"D":90,"p":143,"w":0,"c":0,"g":0},{"h":160,"D":90,"p":130,"w":0,"c":0,"g":0},
{"h":161,"D":90,"p":110,"w":0,"c":0,"g":0},{"h":162,"D":90,"p":80,"w":0,"c":0,"g":10},{"h":163,"D":89,"p":52,"w":0,"c":0,"g":37},{"h":164,"D":90,"p":20,"w":0,"c":30,"g":40},{"h":165,"D":90,"p":5,"w":0,"c":45,"g":40},{"h":166,"D":89,"p":0,"w":0,"c":50,"g":39},{"h":167,"D":90,"p":0,"w":0,"c":50,"g":40},{"h":168,"D":89,"p":0,"w":0,"c":50,"g":39}
]
},
"columns": 2,
"spacing": {"row": 121, "column": 95},
"bounds": "flush",
"resolve": {"scale": {"color": "independent", "stroke": "independent", "x": "independent", "y": "independent"}, "legend": {"color": "independent"}},
"concat": [
{
 "width": 616, "height": 219,
 "data": {"name": "a"},
 "title": {"text": "(a)\u00a0 Winter, heating"},
 "layer": [
  {
   "transform": [{"fold": ["s","c","b"], "as": ["k","v"]}, {"lookup": "k", "from": {"data": {"name": "ka"}, "key": "k", "fields": ["lab","o"]}}],
   "mark": {"type": "bar", "size": 2.5, "fillOpacity": 0.45, "strokeWidth": 0.35, "strokeOpacity": 0.6},
   "encoding": {
    "x": {"field": "h", "type": "quantitative", "scale": {"domain": [0,169], "nice": false, "zero": false}, "axis": {"values": [1,9,17,25,33,41,49,57,65,73,81,89,97,105,113,121,129,137,145,153,161,169], "tickCount": 40, "title": "Hour (h)", "grid": true, "labelOverlap": false, "labelFlush": false}},
    "y": {"field": "v", "type": "quantitative", "stack": "zero", "scale": {"domain": [0,160], "nice": false}, "axis": {"values": [0,20,40,60,80,100,120,140,160], "tickCount": 20, "title": "Heating power (kW)", "grid": true, "labelOverlap": false, "labelFlush": false}},
    "color": {"field": "lab", "type": "nominal", "scale": {"domain": ["D_H","Q_SH","Q_CHP","Q_BB"], "range": ["#ff1a1a","#0000ff","#bf00bf","#008000"]}, "legend": {"orient": "none", "legendX": 552, "legendY": 1, "columns": 2, "symbolType": "M-1,-0.32H1V0.32H-1Z", "encode": {"symbols": {"update": {"shape": {"signal": "datum.value === 'D_H' ? 'M-1,-0.1H1V0.1H-1Z' : 'M-1,-0.32H1V0.32H-1Z'"}}}}}},
    "stroke": {"field": "lab", "type": "nominal", "scale": {"domain": ["D_H","Q_SH","Q_CHP","Q_BB"], "range": ["#ff1a1a","#0000ff","#bf00bf","#008000"]}, "legend": null},
    "order": {"field": "o", "type": "quantitative"}
   }
  },
  {
   "mark": {"type": "line", "strokeWidth": 1.6, "point": {"filled": true, "size": 6}},
   "encoding": {"x": {"field": "h", "type": "quantitative"}, "y": {"field": "D", "type": "quantitative"}, "color": {"datum": "D_H"}}
  }
 ]
},
{
 "width": 616, "height": 219,
 "data": {"name": "b"},
 "title": {"text": "(b)\u00a0 Winter, electricity"},
 "layer": [
  {
   "transform": [{"fold": ["p","w","c","g"], "as": ["k","v"]}, {"lookup": "k", "from": {"data": {"name": "kb"}, "key": "k", "fields": ["lab","o"]}}],
   "mark": {"type": "bar", "size": 2.5, "fillOpacity": 0.45, "strokeWidth": 0.35, "strokeOpacity": 0.6},
   "encoding": {
    "x": {"field": "h", "type": "quantitative", "scale": {"domain": [0,169], "nice": false, "zero": false}, "axis": {"values": [1,9,17,25,33,41,49,57,65,73,81,89,97,105,113,121,129,137,145,153,161,169], "tickCount": 40, "title": "Hour (h)", "grid": true, "labelOverlap": false, "labelFlush": false}},
    "y": {"field": "v", "type": "quantitative", "stack": "zero", "scale": {"domain": [0,250], "nice": false}, "axis": {"values": [0,50,100,150,200,250], "tickCount": 20, "title": "Electrical power (kW)", "grid": true, "labelOverlap": false, "labelFlush": false}},
    "color": {"field": "lab", "type": "nominal", "scale": {"domain": ["D_E","Q_PV","Q_WT","Q_CHP","Q_G"], "range": ["#ff1a1a","#0000ff","#00bfbf","#bf00bf","#008000"]}, "legend": {"orient": "none", "legendX": 434, "legendY": 1, "columns": 3, "symbolType": "M-1,-0.32H1V0.32H-1Z", "encode": {"symbols": {"update": {"shape": {"signal": "datum.value === 'D_E' ? 'M-1,-0.1H1V0.1H-1Z' : 'M-1,-0.32H1V0.32H-1Z'"}}}}}},
    "stroke": {"field": "lab", "type": "nominal", "scale": {"domain": ["D_E","Q_PV","Q_WT","Q_CHP","Q_G"], "range": ["#ff1a1a","#0000ff","#00bfbf","#bf00bf","#008000"]}, "legend": null},
    "order": {"field": "o", "type": "quantitative"}
   }
  },
  {
   "mark": {"type": "line", "strokeWidth": 1.6, "point": {"filled": true, "size": 6}},
   "encoding": {"x": {"field": "h", "type": "quantitative"}, "y": {"field": "D", "type": "quantitative"}, "color": {"datum": "D_E"}}
  }
 ]
},
{
 "width": 616, "height": 219,
 "data": {"name": "c"},
 "title": {"text": "(c)\u00a0 Summer, electricity"},
 "layer": [
  {
   "transform": [{"fold": ["s","c","b"], "as": ["k","v"]}, {"lookup": "k", "from": {"data": {"name": "ka"}, "key": "k", "fields": ["lab","o"]}}],
   "mark": {"type": "bar", "size": 2.5, "fillOpacity": 0.45, "strokeWidth": 0.35, "strokeOpacity": 0.6},
   "encoding": {
    "x": {"field": "h", "type": "quantitative", "scale": {"domain": [0,169], "nice": false, "zero": false}, "axis": {"values": [1,9,17,25,33,41,49,57,65,73,81,89,97,105,113,121,129,137,145,153,161,169], "tickCount": 40, "title": "Hour (h)", "grid": true, "labelOverlap": false, "labelFlush": false}},
    "y": {"field": "v", "type": "quantitative", "stack": "zero", "scale": {"domain": [0,160], "nice": false}, "axis": {"values": [0,20,40,60,80,100,120,140,160], "tickCount": 20, "title": "Heating power (kW)", "grid": true, "labelOverlap": false, "labelFlush": false}},
    "color": {"field": "lab", "type": "nominal", "scale": {"domain": ["D_H","Q_SH","Q_CHP","Q_BB"], "range": ["#ff1a1a","#0000ff","#bf00bf","#008000"]}, "legend": {"orient": "none", "legendX": 182, "legendY": 2, "columns": 4, "columnPadding": 24, "symbolType": "M-1,-0.32H1V0.32H-1Z", "encode": {"symbols": {"update": {"shape": {"signal": "datum.value === 'D_H' ? 'M-1,-0.1H1V0.1H-1Z' : 'M-1,-0.32H1V0.32H-1Z'"}}}}}},
    "stroke": {"field": "lab", "type": "nominal", "scale": {"domain": ["D_H","Q_SH","Q_CHP","Q_BB"], "range": ["#ff1a1a","#0000ff","#bf00bf","#008000"]}, "legend": null},
    "order": {"field": "o", "type": "quantitative"}
   }
  },
  {
   "mark": {"type": "line", "strokeWidth": 1.6, "point": {"filled": true, "size": 6}},
   "encoding": {"x": {"field": "h", "type": "quantitative"}, "y": {"field": "D", "type": "quantitative"}, "color": {"datum": "D_H"}}
  }
 ]
},
{
 "width": 616, "height": 219,
 "data": {"name": "d"},
 "title": {"text": "(d)\u00a0 Summer, electricity"},
 "layer": [
  {
   "transform": [{"fold": ["p","w","c","g"], "as": ["k","v"]}, {"lookup": "k", "from": {"data": {"name": "kb"}, "key": "k", "fields": ["lab","o"]}}],
   "mark": {"type": "bar", "size": 2.5, "fillOpacity": 0.45, "strokeWidth": 0.35, "strokeOpacity": 0.6},
   "encoding": {
    "x": {"field": "h", "type": "quantitative", "scale": {"domain": [0,169], "nice": false, "zero": false}, "axis": {"values": [1,9,17,25,33,41,49,57,65,73,81,89,97,105,113,121,129,137,145,153,161,169], "tickCount": 40, "title": "Hour (h)", "grid": true, "labelOverlap": false, "labelFlush": false}},
    "y": {"field": "v", "type": "quantitative", "stack": "zero", "scale": {"domain": [0,250], "nice": false}, "axis": {"values": [0,50,100,150,200,250], "tickCount": 20, "title": "Electrical power (kW)", "grid": true, "labelOverlap": false, "labelFlush": false}},
    "color": {"field": "lab", "type": "nominal", "scale": {"domain": ["D_E","Q_PV","Q_WT","Q_CHP","Q_G"], "range": ["#ff1a1a","#0000ff","#00bfbf","#bf00bf","#008000"]}, "legend": {"orient": "none", "legendX": 434, "legendY": 1, "columns": 3, "symbolType": "M-1,-0.32H1V0.32H-1Z", "encode": {"symbols": {"update": {"shape": {"signal": "datum.value === 'D_E' ? 'M-1,-0.1H1V0.1H-1Z' : 'M-1,-0.32H1V0.32H-1Z'"}}}}}},
    "stroke": {"field": "lab", "type": "nominal", "scale": {"domain": ["D_E","Q_PV","Q_WT","Q_CHP","Q_G"], "range": ["#ff1a1a","#0000ff","#00bfbf","#bf00bf","#008000"]}, "legend": null},
    "order": {"field": "o", "type": "quantitative"}
   }
  },
  {
   "mark": {"type": "line", "strokeWidth": 1.6, "point": {"filled": true, "size": 6}},
   "encoding": {"x": {"field": "h", "type": "quantitative"}, "y": {"field": "D", "type": "quantitative"}, "color": {"datum": "D_E"}}
  }
 ]
}
]
}
